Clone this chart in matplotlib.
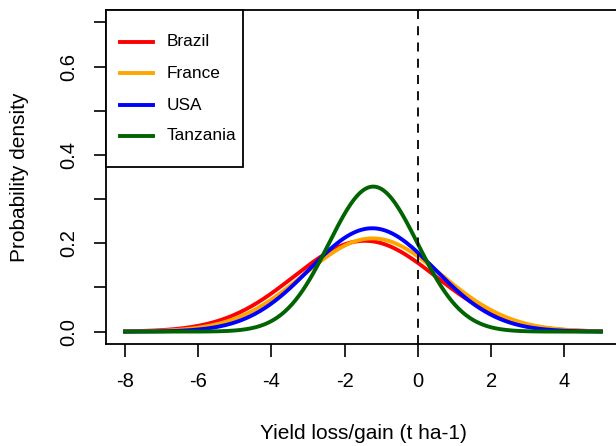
import numpy as np
import matplotlib
matplotlib.use("Agg")
import matplotlib.pyplot as plt
from matplotlib.patches import Rectangle
from matplotlib.lines import Line2D

plt.rcParams['font.family'] = ['Liberation Sans', 'DejaVu Sans']

countries = ["Brazil", "France", "USA", "Tanzania"]
colors = ["#FF0000", "#FFA500", "#0000FF", "#006400"]
# normal distribution parameters (mean, sd)
means = [-1.45, -1.24, -1.25, -1.22]
sds = [1.94, 1.89, 1.705, 1.215]

x_ticks = [-8, -6, -4, -2, 0, 2, 4]
y_ticks = [0.0, 0.2, 0.4, 0.6]

W, H = 616, 446
fig = plt.figure(figsize=(W/100, H/100), dpi=100)
ax = fig.add_axes([106/W, 102/H, 514/W, 334/H])

x = np.linspace(-8, 5, 400)
for name, col, m, s in zip(countries, colors, means, sds):
    y = np.exp(-(x - m)**2 / (2*s**2)) / (s*np.sqrt(2*np.pi))
    ax.plot(x, y, color=col, lw=2.8, label=name)

ax.axvline(0, color='black', lw=1.3, ls=(0, (5, 4)))

ax.set_xlim(-8.52, 5.52)
ax.set_ylim(-0.028, 0.728)
ax.set_xticks(x_ticks)
ax.set_xticklabels([str(t) for t in x_ticks])
ax.set_yticks(y_ticks)
ax.set_yticklabels(["%.1f" % t for t in y_ticks], rotation=90, va='center')
ax.set_yticks([0.1, 0.3, 0.5, 0.7], minor=True)
ax.tick_params(axis='both', which='both', direction='out', length=9, width=1.2,
               labelsize=14.5, pad=11)
for sp in ax.spines.values():
    sp.set_linewidth(1.3)

ax.set_xlabel("Yield loss/gain (t ha-1)", fontsize=15, labelpad=24)
ax.set_ylabel("Probability density", fontsize=15, labelpad=22)

# legend box drawn in figure pixels, like R's legend()
def fx(px):
    return px / W

def fy(py):
    return 1 - py / H

fig.patches.append(Rectangle((fx(106), fy(167)), fx(243) - fx(106), fy(10) - fy(167),
                             transform=fig.transFigure, fill=True, facecolor='white',
                             edgecolor='black', lw=1.3, zorder=5))
rows = [42, 73, 105, 136]
for name, col, r in zip(countries, colors, rows):
    fig.lines.append(Line2D([fx(120), fx(153)], [fy(r), fy(r)], color=col, lw=2.8,
                            transform=fig.transFigure, zorder=6))
    fig.text(fx(167), fy(r), name, fontsize=12.4, va='center', ha='left', zorder=6)

fig.savefig("out.png", dpi=100)
